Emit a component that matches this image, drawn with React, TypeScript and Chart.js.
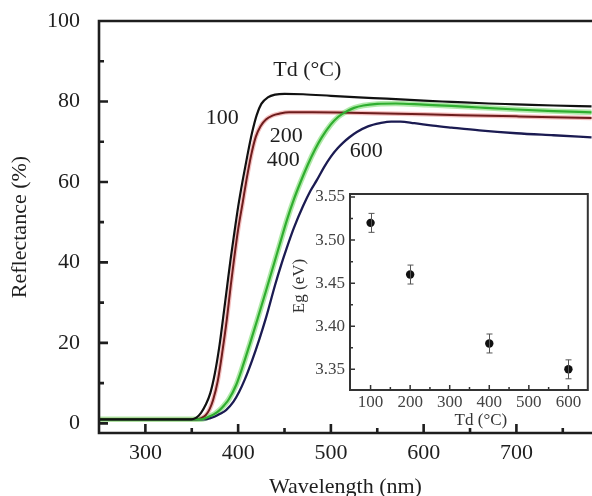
import React, { useEffect, useRef } from 'react';
import { Chart, registerables } from 'chart.js';

Chart.register(...registerables);

const SERIF = '"Liberation Serif", "Times New Roman", Times, serif';
const INK = '#1e1e1e';

// Diffuse reflectance spectra, one per annealing temperature Td
const wl100 = [250, 300, 350, 355, 360, 365, 370, 375, 380, 384, 388, 392, 396, 400, 405, 410, 415, 420, 425, 432, 440, 450, 470, 500, 530, 560, 600, 630, 670, 700, 740, 781];
const r100 = [1.0, 1.0, 1.0, 1.4, 2.6, 4.6, 7.5, 12.5, 19.5, 26.5, 33.8, 41.0, 47.5, 53.8, 60.5, 66.6, 72.2, 76.6, 79.4, 81.0, 81.7, 81.9, 81.8, 81.4, 81.0, 80.7, 80.2, 79.9, 79.5, 79.3, 79.0, 78.8];

const wl200 = [250, 300, 355, 360, 365, 369, 373, 378, 383, 388, 392, 396, 400, 405, 409, 414, 419, 424, 430, 437, 445, 455, 480, 520, 560, 600, 640, 700, 740, 781];
const r200 = [1.0, 1.0, 1.0, 1.3, 2.0, 3.4, 5.8, 10.5, 17.8, 26.2, 34.2, 41.5, 48.2, 55.0, 60.5, 66.6, 71.2, 73.8, 75.5, 76.5, 77.0, 77.3, 77.3, 77.2, 77.0, 76.8, 76.6, 76.3, 76.1, 75.9];

const wl400 = [250, 300, 360, 365, 370, 375, 380, 385, 390, 398, 405, 413, 421, 430, 439, 446, 453, 460, 467, 475, 483, 490, 500, 508, 515, 525, 535, 550, 570, 600, 630, 660, 700, 740, 781];
const r400 = [1.0, 1.0, 1.0, 1.3, 1.8, 2.4, 3.3, 4.5, 6.0, 9.6, 14.2, 20.0, 26.0, 32.9, 39.9, 45.4, 50.8, 55.6, 59.8, 64.2, 68.1, 71.0, 74.3, 76.2, 77.3, 78.4, 79.0, 79.4, 79.5, 79.2, 78.9, 78.5, 78.0, 77.6, 77.3];

const wl600 = [250, 300, 365, 370, 375, 380, 387, 395, 401, 407, 415, 423, 430, 440, 447, 452, 460, 470, 478, 485, 493, 500, 507, 513, 520, 528, 540, 553, 565, 575, 590, 610, 630, 660, 700, 740, 781];
const r600 = [1.0, 1.0, 1.0, 1.3, 1.7, 2.3, 3.3, 5.4, 7.8, 10.8, 15.6, 21.0, 26.2, 34.5, 39.8, 43.3, 48.5, 54.0, 57.8, 60.5, 63.8, 66.3, 68.3, 69.7, 71.1, 72.4, 73.8, 74.6, 75.0, 75.0, 74.6, 74.0, 73.5, 72.8, 72.1, 71.6, 71.1];

const X_TICKS = [300, 400, 500, 600, 700];
const X_MINOR = [250, 350, 450, 550, 650, 750];
const Y_TICKS = [0, 20, 40, 60, 80, 100];
const Y_MINOR = [10, 30, 50, 70, 90];

// Optical band gap versus annealing temperature (inset)
const TD = [100, 200, 400, 600];
const EG = [3.52, 3.46, 3.38, 3.35];
const EG_ERR = [0.011, 0.011, 0.011, 0.011];
const INSET_X_TICKS = [100, 200, 300, 400, 500, 600];
const INSET_X_MINOR = [50, 150, 250, 350, 450, 550, 650];
const INSET_Y_TICKS = [3.35, 3.40, 3.45, 3.50, 3.55];
const INSET_Y_MINOR = [3.375, 3.425, 3.475, 3.525];

const toPoints = (xs: number[], ys: number[]) => xs.map((x, i) => ({ x, y: ys[i] }));

type FrameSpec = {
  xMajor: number[];
  xMinor: number[];
  yMajor: number[];
  yMinor: number[];
  lineWidth: number;
  tickWidth: number;
  majorLen: number;
  minorLen: number;
  color: string;
  right: boolean;
};

function drawFrame(chart: any, spec: FrameSpec) {
  const { ctx, chartArea: a } = chart;
  const xs = chart.scales.x;
  const ys = chart.scales.y;
  ctx.save();
  ctx.strokeStyle = spec.color;
  ctx.lineWidth = spec.lineWidth;
  ctx.lineCap = 'square';
  ctx.beginPath();
  ctx.moveTo(a.right, a.top);
  ctx.lineTo(a.left, a.top);
  ctx.lineTo(a.left, a.bottom);
  ctx.lineTo(a.right, a.bottom);
  if (spec.right) ctx.lineTo(a.right, a.top);
  ctx.stroke();

  ctx.lineCap = 'butt';
  ctx.lineWidth = spec.tickWidth;
  ctx.beginPath();
  const xTick = (v: number, len: number) => {
    const px = xs.getPixelForValue(v);
    if (px < a.left + 1 || px > a.right - 1) return;
    ctx.moveTo(px, a.bottom);
    ctx.lineTo(px, a.bottom - len);
  };
  const yTick = (v: number, len: number) => {
    const py = ys.getPixelForValue(v);
    if (py < a.top + 1 || py > a.bottom - 1) return;
    ctx.moveTo(a.left, py);
    ctx.lineTo(a.left + len, py);
  };
  spec.xMajor.forEach((v) => xTick(v, spec.majorLen));
  spec.xMinor.forEach((v) => xTick(v, spec.minorLen));
  spec.yMajor.forEach((v) => yTick(v, spec.majorLen));
  spec.yMinor.forEach((v) => yTick(v, spec.minorLen));
  ctx.stroke();
  ctx.restore();
}

// Text annotations placed in data coordinates of the main plot
const CURVE_LABELS = [
  { text: 'Td (°C)', x: 474.5, y: 87.7 },
  { text: '100', x: 382.8, y: 75.9 },
  { text: '200', x: 451.8, y: 71.4 },
  { text: '400', x: 448.6, y: 65.5 },
  { text: '600', x: 538.1, y: 67.7 },
];

const mainDecor = {
  id: 'mainDecor',
  afterDatasetsDraw(chart: any) {
    drawFrame(chart, {
      xMajor: X_TICKS,
      xMinor: X_MINOR,
      yMajor: Y_TICKS,
      yMinor: Y_MINOR,
      lineWidth: 2.6,
      tickWidth: 2.6,
      majorLen: 9,
      minorLen: 5,
      color: INK,
      right: false,
    });
    const { ctx } = chart;
    const xs = chart.scales.x;
    const ys = chart.scales.y;
    ctx.save();
    ctx.fillStyle = INK;
    ctx.font = `22px ${SERIF}`;
    ctx.textAlign = 'center';
    ctx.textBaseline = 'middle';
    CURVE_LABELS.forEach((l) => {
      ctx.fillText(l.text, xs.getPixelForValue(l.x), ys.getPixelForValue(l.y));
    });
    ctx.restore();
  },
};

const insetDecor = {
  id: 'insetDecor',
  afterDatasetsDraw(chart: any) {
    const { ctx, chartArea: a } = chart;
    const xs = chart.scales.x;
    const ys = chart.scales.y;
    // error bars
    ctx.save();
    ctx.strokeStyle = '#555';
    ctx.lineWidth = 1;
    TD.forEach((t, i) => {
      const px = Math.round(xs.getPixelForValue(t)) + 0.5;
      const lo = ys.getPixelForValue(EG[i] - EG_ERR[i]);
      const hi = ys.getPixelForValue(EG[i] + EG_ERR[i]);
      ctx.beginPath();
      ctx.moveTo(px, lo);
      ctx.lineTo(px, hi);
      ctx.moveTo(px - 3, lo);
      ctx.lineTo(px + 3, lo);
      ctx.moveTo(px - 3, hi);
      ctx.lineTo(px + 3, hi);
      ctx.stroke();
    });
    ctx.restore();
    drawFrame(chart, {
      xMajor: INSET_X_TICKS,
      xMinor: INSET_X_MINOR,
      yMajor: INSET_Y_TICKS,
      yMinor: INSET_Y_MINOR,
      lineWidth: 2,
      tickWidth: 1.5,
      majorLen: 5,
      minorLen: 3,
      color: '#333',
      right: true,
    });
    // axis titles
    ctx.save();
    ctx.fillStyle = '#333';
    ctx.font = `17px ${SERIF}`;
    ctx.textAlign = 'center';
    ctx.textBaseline = 'middle';
    ctx.fillText('Td (°C)', (a.left + a.right) / 2 + 12, a.bottom + 31);
    ctx.translate(a.left - 50, (a.top + a.bottom) / 2 - 6);
    ctx.rotate(-Math.PI / 2);
    ctx.fillText('Eg (eV)', 0, 0);
    ctx.restore();
  },
};

// keep tick labels from pushing the plot area around
const noOverflowX = (height: number) => (s: any) => {
  s.height = height;
  s.paddingLeft = 0;
  s.paddingRight = 0;
};
const noOverflowY = (width: number) => (s: any) => {
  s.width = width;
  s.paddingTop = 0;
  s.paddingBottom = 0;
};

export default function App() {
  const mainRef = useRef<HTMLCanvasElement>(null);
  const insetRef = useRef<HTMLCanvasElement>(null);

  useEffect(() => {
    const tickFont = { family: SERIF, size: 22 };
    const line = (data: any, color: string, width: number, order: number) => ({
      data,
      borderColor: color,
      borderWidth: width,
      pointRadius: 0,
      fill: false,
      cubicInterpolationMode: 'monotone' as const,
      order,
    });

    const main = new Chart(mainRef.current!, {
      type: 'line',
      data: {
        datasets: [
          line(toPoints(wl100, r100), '#111111', 2.2, 1),
          line(toPoints(wl400, r400), '#2fae2f', 2.2, 2),
          line(toPoints(wl200, r200), '#6e1c1c', 2, 3),
          line(toPoints(wl600, r600), '#1b1b52', 2.3, 4),
          line(toPoints(wl400, r400), 'rgba(150,225,140,0.75)', 5.5, 10),
          line(toPoints(wl200, r200), 'rgba(235,140,140,0.55)', 4.5, 11),
        ],
      },
      options: {
        responsive: false,
        animation: false,
        events: [],
        layout: { padding: { top: 21, right: 0, left: 0, bottom: 0 } },
        plugins: { legend: { display: false }, tooltip: { enabled: false } },
        scales: {
          x: {
            type: 'linear',
            min: 250,
            max: 781.5,
            afterBuildTicks: (s: any) => {
              s.ticks = X_TICKS.map((value) => ({ value }));
            },
            afterFit: noOverflowX(63),
            grid: { display: false, drawTicks: false },
            border: { display: false },
            ticks: { font: tickFont, color: INK, padding: 7, maxRotation: 0 },
            title: {
              display: true,
              text: 'Wavelength (nm)',
              font: { family: SERIF, size: 22, lineHeight: 0.8 },
              color: INK,
              padding: { top: 0, bottom: 0 },
            },
          },
          y: {
            type: 'linear',
            min: -2.4,
            max: 100,
            afterBuildTicks: (s: any) => {
              s.ticks = Y_TICKS.map((value) => ({ value }));
            },
            afterFit: noOverflowY(99),
            grid: { display: false, drawTicks: false },
            border: { display: false },
            ticks: { font: tickFont, color: INK, padding: 19 },
            title: {
              display: true,
              text: 'Reflectance (%)',
              font: { family: SERIF, size: 22 },
              color: INK,
              padding: { top: 7, bottom: 0 },
            },
          },
        },
      },
      plugins: [mainDecor],
    });

    const insetFont = { family: SERIF, size: 17 };
    const inset = new Chart(insetRef.current!, {
      type: 'scatter',
      data: {
        datasets: [
          {
            data: toPoints(TD, EG),
            pointRadius: 4.2,
            pointBackgroundColor: '#111',
            pointBorderWidth: 0,
            showLine: false,
          },
        ],
      },
      options: {
        responsive: false,
        animation: false,
        events: [],
        layout: { padding: { top: 14, right: 4, left: 0, bottom: 0 } },
        plugins: { legend: { display: false }, tooltip: { enabled: false } },
        scales: {
          x: {
            type: 'linear',
            min: 48,
            max: 649,
            afterBuildTicks: (s: any) => {
              s.ticks = INSET_X_TICKS.map((value) => ({ value }));
            },
            afterFit: noOverflowX(45),
            grid: { display: false, drawTicks: false },
            border: { display: false },
            ticks: { font: insetFont, color: '#444', padding: 2, maxRotation: 0 },
          },
          y: {
            type: 'linear',
            min: 3.326,
            max: 3.5535,
            afterBuildTicks: (s: any) => {
              s.ticks = INSET_Y_TICKS.map((value) => ({ value }));
            },
            afterFit: noOverflowY(70),
            grid: { display: false, drawTicks: false },
            border: { display: false },
            ticks: {
              font: insetFont,
              color: '#444',
              padding: 5,
              callback: (v: any) => Number(v).toFixed(2),
            },
          },
        },
      },
      plugins: [insetDecor],
    });

    return () => {
      main.destroy();
      inset.destroy();
    };
  }, []);

  return (
    <div style={{ position: 'fixed', left: 0, top: 0, width: 592, height: 496, background: '#fff', overflow: 'hidden' }}>
      <canvas ref={mainRef} width={592} height={496} style={{ position: 'absolute', left: 0, top: 0 }} />
      <canvas ref={insetRef} width={312} height={255} style={{ position: 'absolute', left: 280, top: 180 }} />
    </div>
  );
}
